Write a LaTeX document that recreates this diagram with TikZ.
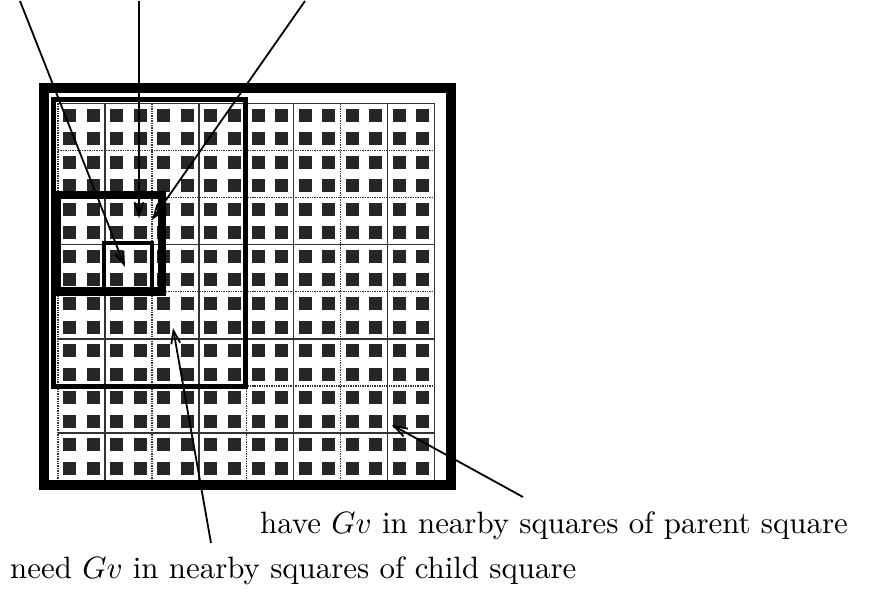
\documentclass[tikz,border=0pt]{standalone}
\usepackage{graphicx}
\usetikzlibrary{arrows.meta}
\begin{document}
\begin{tikzpicture}[x=1bp,y=-1bp,
  dotsq/.style={fill=black!85},
  gridsolid/.style={line width=1.4bp,black!80},
  griddot/.style={line width=1.4bp,black!80,densely dotted},
  outerbox/.style={line width=10bp},
  parentbox/.style={line width=5bp},
  childbox/.style={line width=8.5bp},
  smallbox/.style={line width=4bp},
  pointer/.style={line width=1.8bp,-{Straight Barb[length=13bp,width=9bp,line width=1.8bp]}},
  lbl/.style={anchor=base west,inner sep=0pt}]
\useasboundingbox (0,0) rectangle (870,593);
% dots
\foreach \i in {0,...,15}{
  \foreach \j in {0,...,15}{
    \fill[dotsq] ({58+23.53*(\i+0.5)-6.5},{103.5+23.53*(\j+0.5)-6.5}) rectangle +(13,13);
  }
}
% grid lines
\foreach \k in {1,3,5,7}{
  \draw[gridsolid] ({58+47.06*\k},103.5) -- ({58+47.06*\k},480);
}
\foreach \k in {2,4,6}{
  \draw[griddot] ({58+47.06*\k},103.5) -- ({58+47.06*\k},480);
}
\foreach \k in {3,5,7}{
  \draw[gridsolid] (58,{103.5+47.06*\k}) -- (434.5,{103.5+47.06*\k});
}
\foreach \k in {1,2,4,6}{
  \draw[griddot] (58,{103.5+47.06*\k}) -- (434.5,{103.5+47.06*\k});
}
\draw[griddot] (58,103.5) -- (58,480);
\draw[gridsolid] (58,103.5) -- (434.5,103.5) -- (434.5,480);
% boxes
\draw[outerbox] (43.5,88.5) rectangle (451,485);
\draw[parentbox] (53,100) rectangle (245.5,386);
\draw[childbox] (57,195) rectangle (162,291.5);
\draw[smallbox] (104,243) rectangle (152,291.5);
% connector ends
\coordinate (t1) at (20,1);
\coordinate (t2) at (139,1);
\coordinate (t3) at (305,1);
\coordinate (h1) at (125,267);
\coordinate (h2) at (139,218);
\coordinate (h3) at (152,220);
\coordinate (nt) at (211,543);
\coordinate (nh) at (173,328);
\coordinate (ht) at (523,497);
\coordinate (hh) at (392,425);
\draw[pointer] (t1) -- (h1);
\draw[pointer] (t2) -- (h2);
\draw[pointer] (t3) -- (h3);
\draw[pointer] (nt) -- (nh);
\draw[pointer] (ht) -- (hh);
% labels
\node[lbl] (have) at (260,533) {\scalebox{3.1}{have $Gv$ in nearby squares of parent square}};
\node[lbl] (need) at (10,578) {\scalebox{3.1}{need $Gv$ in nearby squares of child square}};
\end{tikzpicture}
\end{document}
